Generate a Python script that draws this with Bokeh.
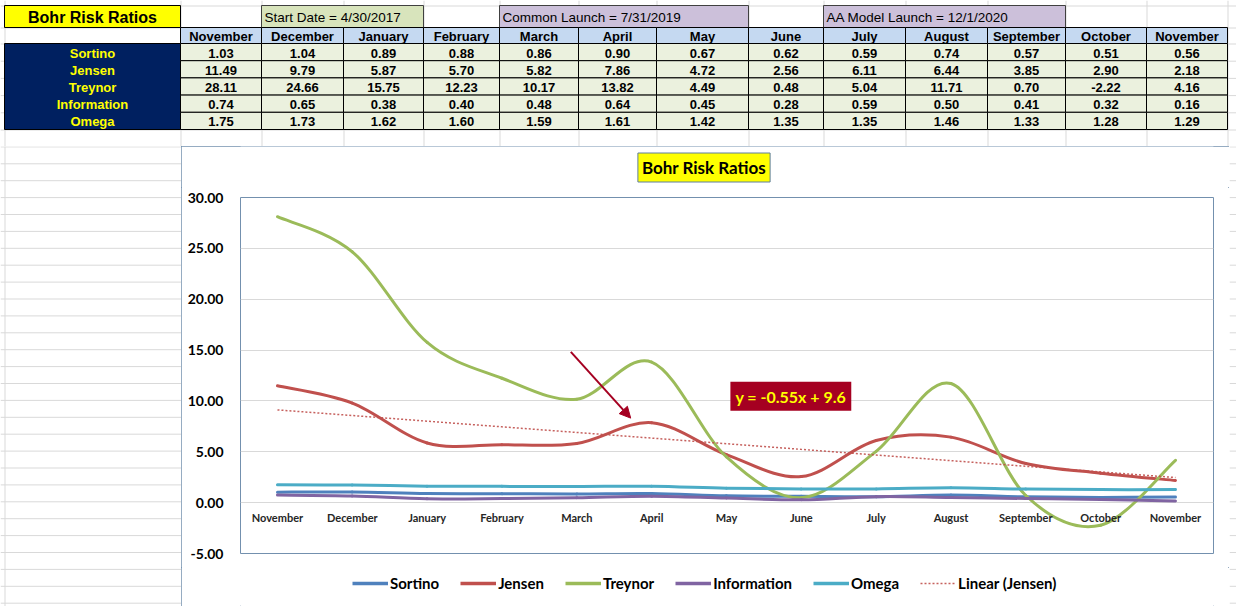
import numpy as np
from bokeh.plotting import figure
from bokeh.layouts import column, row
from bokeh.models import (Range1d, FixedTicker, NumeralTickFormatter, Legend, LegendItem,
                          Label, Arrow, NormalHead)
from bokeh.core.properties import value
from bokeh.embed import file_html
from bokeh.resources import INLINE

# ---------------- data ----------------
months = ["November", "December", "January", "February", "March", "April", "May",
          "June", "July", "August", "September", "October", "November"]
metrics = ["Sortino", "Jensen", "Treynor", "Information", "Omega"]
sortino = [1.03, 1.04, 0.89, 0.88, 0.86, 0.90, 0.67, 0.62, 0.59, 0.74, 0.57, 0.51, 0.56]
jensen = [11.49, 9.79, 5.87, 5.70, 5.82, 7.86, 4.72, 2.56, 6.11, 6.44, 3.85, 2.90, 2.18]
treynor = [28.11, 24.66, 15.75, 12.23, 10.17, 13.82, 4.49, 0.48, 5.04, 11.71, 0.70, -2.22, 4.16]
information = [0.74, 0.65, 0.38, 0.40, 0.48, 0.64, 0.45, 0.28, 0.59, 0.50, 0.41, 0.32, 0.16]
omega = [1.75, 1.73, 1.62, 1.60, 1.59, 1.61, 1.42, 1.35, 1.35, 1.46, 1.33, 1.28, 1.29]
series = [sortino, jensen, treynor, information, omega]
table_title = "Bohr Risk Ratios"
chart_title = "Bohr Risk Ratios"
notes = ["Start Date = 4/30/2017", "Common Launch = 7/31/2019", "AA Model Launch = 12/1/2020"]
note_cols = [(1, 2), (4, 6), (8, 10)]          # month-column spans of the notes
y_ticks = [-5, 0, 5, 10, 15, 20, 25, 30]
trend_label = "Linear (Jensen)"
equation_text = "y = -0.55x + 9.6"

# ---------------- styles / layout ----------------
COLORS = ["#4f81bd", "#c0504d", "#9bbb59", "#8064a2", "#4bacc6"]
TREND_COLOR = "#c0504d"
GRIDC = "#d9d9d9"
BORDERC = "#7390ae"
COL_EDGES = [4, 180, 261, 343, 423, 499, 578, 656, 748, 823, 905, 987, 1065, 1146, 1227]
ROW_EDGES = [5, 27, 43, 60.2, 77.4, 94.6, 111.8, 129]
PAGE_W, TOP_H, BOT_H = 1236, 146, 6
TITLE_H, PLOT_H, LEG_H = 41, 380, 39
CH_H = TITLE_H + PLOT_H + LEG_H
CH_L, CH_R = 181, 1229
MB_L, MB_R = 59, 16
FR_L, FR_R = CH_L + MB_L, CH_R - MB_R
TFONT = value("Liberation Sans")
CFONT = value("Lato")


def blank(w, h, x0, x1, y0, y1, mbl=0, mbr=0):
    f = figure(width=w, height=h, x_range=Range1d(x0, x1), y_range=Range1d(y1, y0),
               toolbar_location=None, output_backend="svg", min_border=0,
               min_border_left=mbl, min_border_right=mbr,
               x_axis_location=None, y_axis_location=None, outline_line_color=None)
    f.grid.visible = False
    f.background_fill_color = "white"
    f.border_fill_color = "white"
    return f


# ---------------- table ----------------
tf = blank(PAGE_W, TOP_H, 0, PAGE_W, 0, TOP_H)
gx = [e + 0.5 for e in COL_EDGES]
tf.segment(x0=gx, y0=[0] * len(gx), x1=gx, y1=[TOP_H] * len(gx), line_color=GRIDC, line_width=1)
gy = [e + 0.5 for e in ROW_EDGES]
tf.segment(x0=[0] * len(gy), y0=gy, x1=[PAGE_W] * len(gy), y1=gy, line_color=GRIDC, line_width=1)

tf.quad(left=[COL_EDGES[0]], right=[COL_EDGES[1]], top=[ROW_EDGES[0]], bottom=[ROW_EDGES[1]],
        fill_color="#ffff00", line_color="black", line_width=1)
tf.text(x=[(COL_EDGES[0] + COL_EDGES[1]) / 2], y=[(ROW_EDGES[0] + ROW_EDGES[1]) / 2 + 1],
        text=[table_title], text_align="center", text_baseline="middle",
        text_font=TFONT, text_font_style="bold", text_font_size="16px", text_color="black")

nl = [COL_EDGES[a + 1] for a, b in note_cols]
nr = [COL_EDGES[b + 2] for a, b in note_cols]
tf.quad(left=nl, right=nr, top=[ROW_EDGES[0]] * 3, bottom=[ROW_EDGES[1]] * 3,
        fill_color=["#d8e4bc", "#ccc0da", "#ccc0da"], line_color="#404040", line_width=1)
tf.text(x=[v + 3 for v in nl], y=[(ROW_EDGES[0] + ROW_EDGES[1]) / 2 + 1] * 3, text=notes,
        text_align="left", text_baseline="middle", text_font=TFONT, text_font_size="13.5px",
        text_color="black")

ml = COL_EDGES[1:-1]
mr = COL_EDGES[2:]
mc = [(a + b) / 2 for a, b in zip(ml, mr)]
tf.quad(left=ml, right=mr, top=[ROW_EDGES[1]] * 13, bottom=[ROW_EDGES[2]] * 13,
        fill_color="#c5d9f1", line_color="black", line_width=1)
tf.text(x=mc, y=[(ROW_EDGES[1] + ROW_EDGES[2]) / 2 + 1] * 13, text=months,
        text_align="center", text_baseline="middle", text_font=TFONT, text_font_style="bold",
        text_font_size="13px", text_color="black")

tf.quad(left=[COL_EDGES[0]], right=[COL_EDGES[1]], top=[ROW_EDGES[2]], bottom=[ROW_EDGES[-1]],
        fill_color="#002060", line_color="black", line_width=1)
rc = [(ROW_EDGES[i + 2] + ROW_EDGES[i + 3]) / 2 + 1 for i in range(5)]
tf.text(x=[(COL_EDGES[0] + COL_EDGES[1]) / 2] * 5, y=rc, text=metrics, text_align="center",
        text_baseline="middle", text_font=TFONT, text_font_style="bold", text_font_size="13px",
        text_color="#ffff00")

dl, dr, dt, db, dx, dy, dtxt = [], [], [], [], [], [], []
for r, vals in enumerate(series):
    for c, v in enumerate(vals):
        dl.append(ml[c]); dr.append(mr[c])
        dt.append(ROW_EDGES[r + 2]); db.append(ROW_EDGES[r + 3])
        dx.append(mc[c]); dy.append(rc[r]); dtxt.append(f"{v:.2f}")
tf.quad(left=dl, right=dr, top=dt, bottom=db, fill_color="#ebf1de", line_color="black", line_width=1)
tf.text(x=dx, y=dy, text=dtxt, text_align="center", text_baseline="middle", text_font=TFONT,
        text_font_style="bold", text_font_size="13px", text_color="black")

# ---------------- side strips ----------------
row_lines = [129 + k * 16.9 + 0.5 for k in range(1, 30)]
lf = blank(CH_L, CH_H, 0, CH_L, TOP_H, TOP_H + CH_H)
lf.segment(x0=[0] * len(row_lines), y0=row_lines, x1=[CH_L] * len(row_lines), y1=row_lines,
           line_color=GRIDC)
lf.segment(x0=[4.5], y0=[TOP_H], x1=[4.5], y1=[TOP_H + CH_H], line_color=GRIDC)

rw = PAGE_W - CH_R
rf = blank(rw, CH_H, CH_R, PAGE_W, TOP_H, TOP_H + CH_H)
rf.segment(x0=[CH_R] * len(row_lines), y0=row_lines, x1=[PAGE_W] * len(row_lines), y1=row_lines,
           line_color=GRIDC)

bf = blank(PAGE_W, BOT_H, 0, PAGE_W, TOP_H + CH_H, TOP_H + CH_H + BOT_H)
bf.segment(x0=gx, y0=[TOP_H + CH_H] * len(gx), x1=gx, y1=[TOP_H + CH_H + BOT_H] * len(gx),
           line_color=GRIDC)

# ---------------- chart title strip ----------------
tt = blank(CH_R - CH_L, TITLE_H, FR_L, FR_R, TOP_H, TOP_H + TITLE_H, MB_L, MB_R)
tt.add_layout(Label(x=(CH_L + CH_R) / 2 - 1.5, y=167, text=chart_title, text_align="center",
                    text_baseline="middle", text_font="Lato", text_font_style="bold",
                    text_font_size="17px", text_color="black", background_fill_color="#ffff00",
                    border_line_color="#5f7f9f", border_line_width=1, padding=4))

# ---------------- chart ----------------
p = figure(width=CH_R - CH_L, height=PLOT_H, x_range=Range1d(-0.494, 12.508), y_range=Range1d(-5, 30),
           toolbar_location=None, output_backend="svg", min_border_left=MB_L, min_border_right=MB_R,
           min_border_top=10, min_border_bottom=14, x_axis_location=None,
           outline_line_color=BORDERC, outline_line_width=1)
p.background_fill_color = "white"
p.border_fill_color = "white"
p.xgrid.visible = False
p.ygrid.grid_line_color = "#d9d9d9"
p.ygrid.ticker = FixedTicker(ticks=y_ticks)
p.yaxis.ticker = FixedTicker(ticks=y_ticks)
p.yaxis.formatter = NumeralTickFormatter(format="0.00")
p.yaxis.axis_line_color = None
p.yaxis.major_tick_line_color = None
p.yaxis.minor_tick_line_color = None
p.yaxis.major_label_standoff = 11
p.yaxis.major_label_text_font = "Lato"
p.yaxis.major_label_text_font_style = "bold"
p.yaxis.major_label_text_font_size = "14px"
p.yaxis.major_label_text_color = "black"

xs = list(range(len(months)))


def bezier_parts(xv, yv):
    n = len(xv)
    d = dict(x0=[], y0=[], x1=[], y1=[], cx0=[], cy0=[], cx1=[], cy1=[])
    for i in range(n - 1):
        a = max(i - 1, 0)
        b = min(i + 2, n - 1)
        d["x0"].append(xv[i]); d["y0"].append(yv[i])
        d["x1"].append(xv[i + 1]); d["y1"].append(yv[i + 1])
        d["cx0"].append(xv[i] + (xv[i + 1] - xv[a]) / 6.0)
        d["cy0"].append(yv[i] + (yv[i + 1] - yv[a]) / 6.0)
        d["cx1"].append(xv[i + 1] - (xv[b] - xv[i]) / 6.0)
        d["cy1"].append(yv[i + 1] - (yv[b] - yv[i]) / 6.0)
    return d


for name, vals, col in zip(metrics, series, COLORS):
    p.bezier(line_color=col, line_width=3, line_cap="round", **bezier_parts(xs, vals))

slope, intercept = np.polyfit(np.arange(1, len(jensen) + 1), jensen, 1)
trend_y = [slope * (i + 1) + intercept for i in xs]
p.line(x=xs, y=trend_y, line_color=TREND_COLOR, line_width=1.5, line_dash="2 2", line_alpha=0.9)

p.text(x=xs, y=[0] * len(xs), text=months, text_align="center", text_baseline="middle",
       y_offset=15, text_font=CFONT, text_font_style="bold", text_font_size="11px",
       text_color="#262626")

p.add_layout(Arrow(end=NormalHead(size=11, fill_color="#a50021", line_color="#a50021"),
                   x_start=3.92, y_start=14.82, x_end=4.72, y_end=8.31,
                   line_color="#a50021", line_width=2))
p.add_layout(Label(x=6.86, y=10.45, text=equation_text, text_align="center", text_baseline="middle",
                   text_font="Lato", text_font_style="bold", text_font_size="16px",
                   text_color="#ffff00", background_fill_color="#a50021", padding=5))

# ---------------- legend strip (legend-only renderers, nothing drawn) ----------------
legf = blank(CH_R - CH_L, LEG_H, FR_L, FR_R, 0, LEG_H, MB_L, MB_R)
nan = float("nan")
items = []
for name, col in zip(metrics, COLORS):
    r = legf.line(x=[nan], y=[nan], line_color=col, line_width=3.5)
    items.append(LegendItem(label=name, renderers=[r]))
rt = legf.line(x=[nan], y=[nan], line_color=TREND_COLOR, line_width=1.5, line_dash="2 2",
               line_alpha=0.9)
items.append(LegendItem(label=trend_label, renderers=[rt]))
legend = Legend(items=items, orientation="horizontal", location=(352 - FR_L, 13),
                glyph_width=36, glyph_height=20, label_height=20, label_standoff=2, spacing=21,
                label_text_font="Lato", label_text_font_style="bold", label_text_font_size="15px",
                label_text_color="black", border_line_color=None, background_fill_alpha=0,
                padding=0, margin=0)
legf.add_layout(legend)

chart = column(tt, p, legf, styles={"outline": "1px solid " + BORDERC, "outline-offset": "-1px"})
layout = column(tf, row(lf, chart, rf), bf)
open("out.html", "w").write(file_html(layout, INLINE))
